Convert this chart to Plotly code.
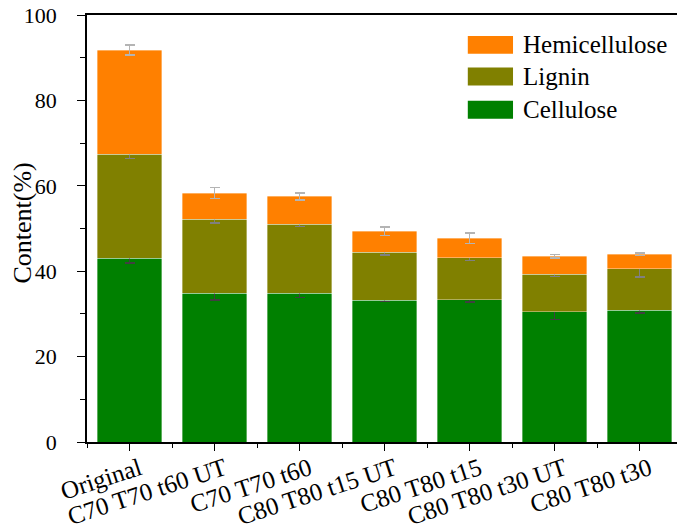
import plotly.graph_objects as go

categories = ["Original", "C70 T70 t60 UT", "C70 T70 t60", "C80 T80 t15 UT",
              "C80 T80 t15", "C80 T80 t30 UT", "C80 T80 t30"]
cellulose = [43.0, 34.8, 34.8, 33.2, 33.3, 30.5, 30.9]
cellulose_err = [1.1, 1.5, 1.0, 0.3, 0.5, 1.8, 0.7]
lignin = [24.4, 17.4, 16.2, 11.2, 9.9, 8.8, 9.7]
lignin_err = [1.0, 0.85, 0.5, 0.6, 0.7, 0.5, 1.9]
hemicellulose = [24.4, 6.1, 6.5, 5.0, 4.5, 4.2, 3.4]
hemicellulose_err = [1.2, 1.3, 0.8, 1.0, 1.2, 0.45, 0.3]
y_ticks = [0, 20, 40, 60, 80, 100]

xpos = list(range(len(categories)))
font = "Liberation Serif, Times New Roman, serif"

fig = go.Figure()
series = [
    ("Cellulose", cellulose, cellulose_err, "#008000", "#404040"),
    ("Lignin", lignin, lignin_err, "#808000", "#808080"),
    ("Hemicellulose", hemicellulose, hemicellulose_err, "#FF8000", "#B4B4B4"),
]
for name, vals, errs, col, ecol in series:
    fig.add_trace(go.Bar(
        x=xpos, y=vals, name=name, width=0.76, showlegend=False,
        marker=dict(color=col, line=dict(color="rgba(255,255,255,0.6)", width=0.6)),
        error_y=dict(type="data", array=errs, visible=True, color=ecol,
                     thickness=1.6, width=5),
    ))

# legend drawn as swatches + labels (top-right, inside plot)
legend_items = [("Hemicellulose", "#FF8000", 0.930),
                ("Lignin", "#808000", 0.856),
                ("Cellulose", "#008000", 0.778)]
for label, col, yc in legend_items:
    fig.add_shape(type="rect", xref="paper", yref="paper",
                  x0=0.640, x1=0.716, y0=yc - 0.021, y1=yc + 0.021,
                  fillcolor=col, line=dict(width=0))
    fig.add_annotation(xref="paper", yref="paper", x=0.729, y=yc,
                       xanchor="left", yanchor="middle", showarrow=False,
                       text=label, font=dict(family=font, size=25, color="black"))

fig.add_annotation(xref="paper", yref="paper", x=-0.109, y=0.512,
                   xanchor="center", yanchor="middle", showarrow=False,
                   textangle=-90, text="Content(%)",
                   font=dict(family=font, size=26, color="black"))

fig.update_layout(
    barmode="stack",
    width=677, height=524,
    margin=dict(l=79, r=3, t=7, b=90),
    paper_bgcolor="white", plot_bgcolor="white",
    font=dict(family=font, size=23, color="black"),
    showlegend=False,
    bargap=0.24,
)

fig.update_xaxes(
    range=[-0.5, 6.5], automargin=False,
    tickmode="array", tickvals=xpos, ticktext=categories,
    tickangle=-18, ticklabeloverflow="allow",
    ticklabelshift=10, ticklabelstandoff=-6,
    ticks="outside", ticklen=7, tickwidth=1.4, tickcolor="black",
    minor=dict(tick0=0.5, dtick=1, ticks="outside", ticklen=4, tickwidth=1.2, tickcolor="black"),
    showline=True, linecolor="black", linewidth=1.5, mirror=True,
    showgrid=False, zeroline=False,
    tickfont=dict(family=font, size=25, color="black"),
)
fig.update_yaxes(
    range=[0, 100], automargin=False,
    tickmode="array", tickvals=y_ticks, ticklabeloverflow="allow",
    ticks="outside", ticklen=8, tickwidth=1.4, tickcolor="black",
    ticklabelstandoff=16,
    minor=dict(dtick=10, ticks="outside", ticklen=5, tickwidth=1.2, tickcolor="black"),
    showline=True, linecolor="black", linewidth=1.5, mirror=True,
    showgrid=False, zeroline=False,
    tickfont=dict(family=font, size=22, color="black"),
)

fig.write_html("out.html")
